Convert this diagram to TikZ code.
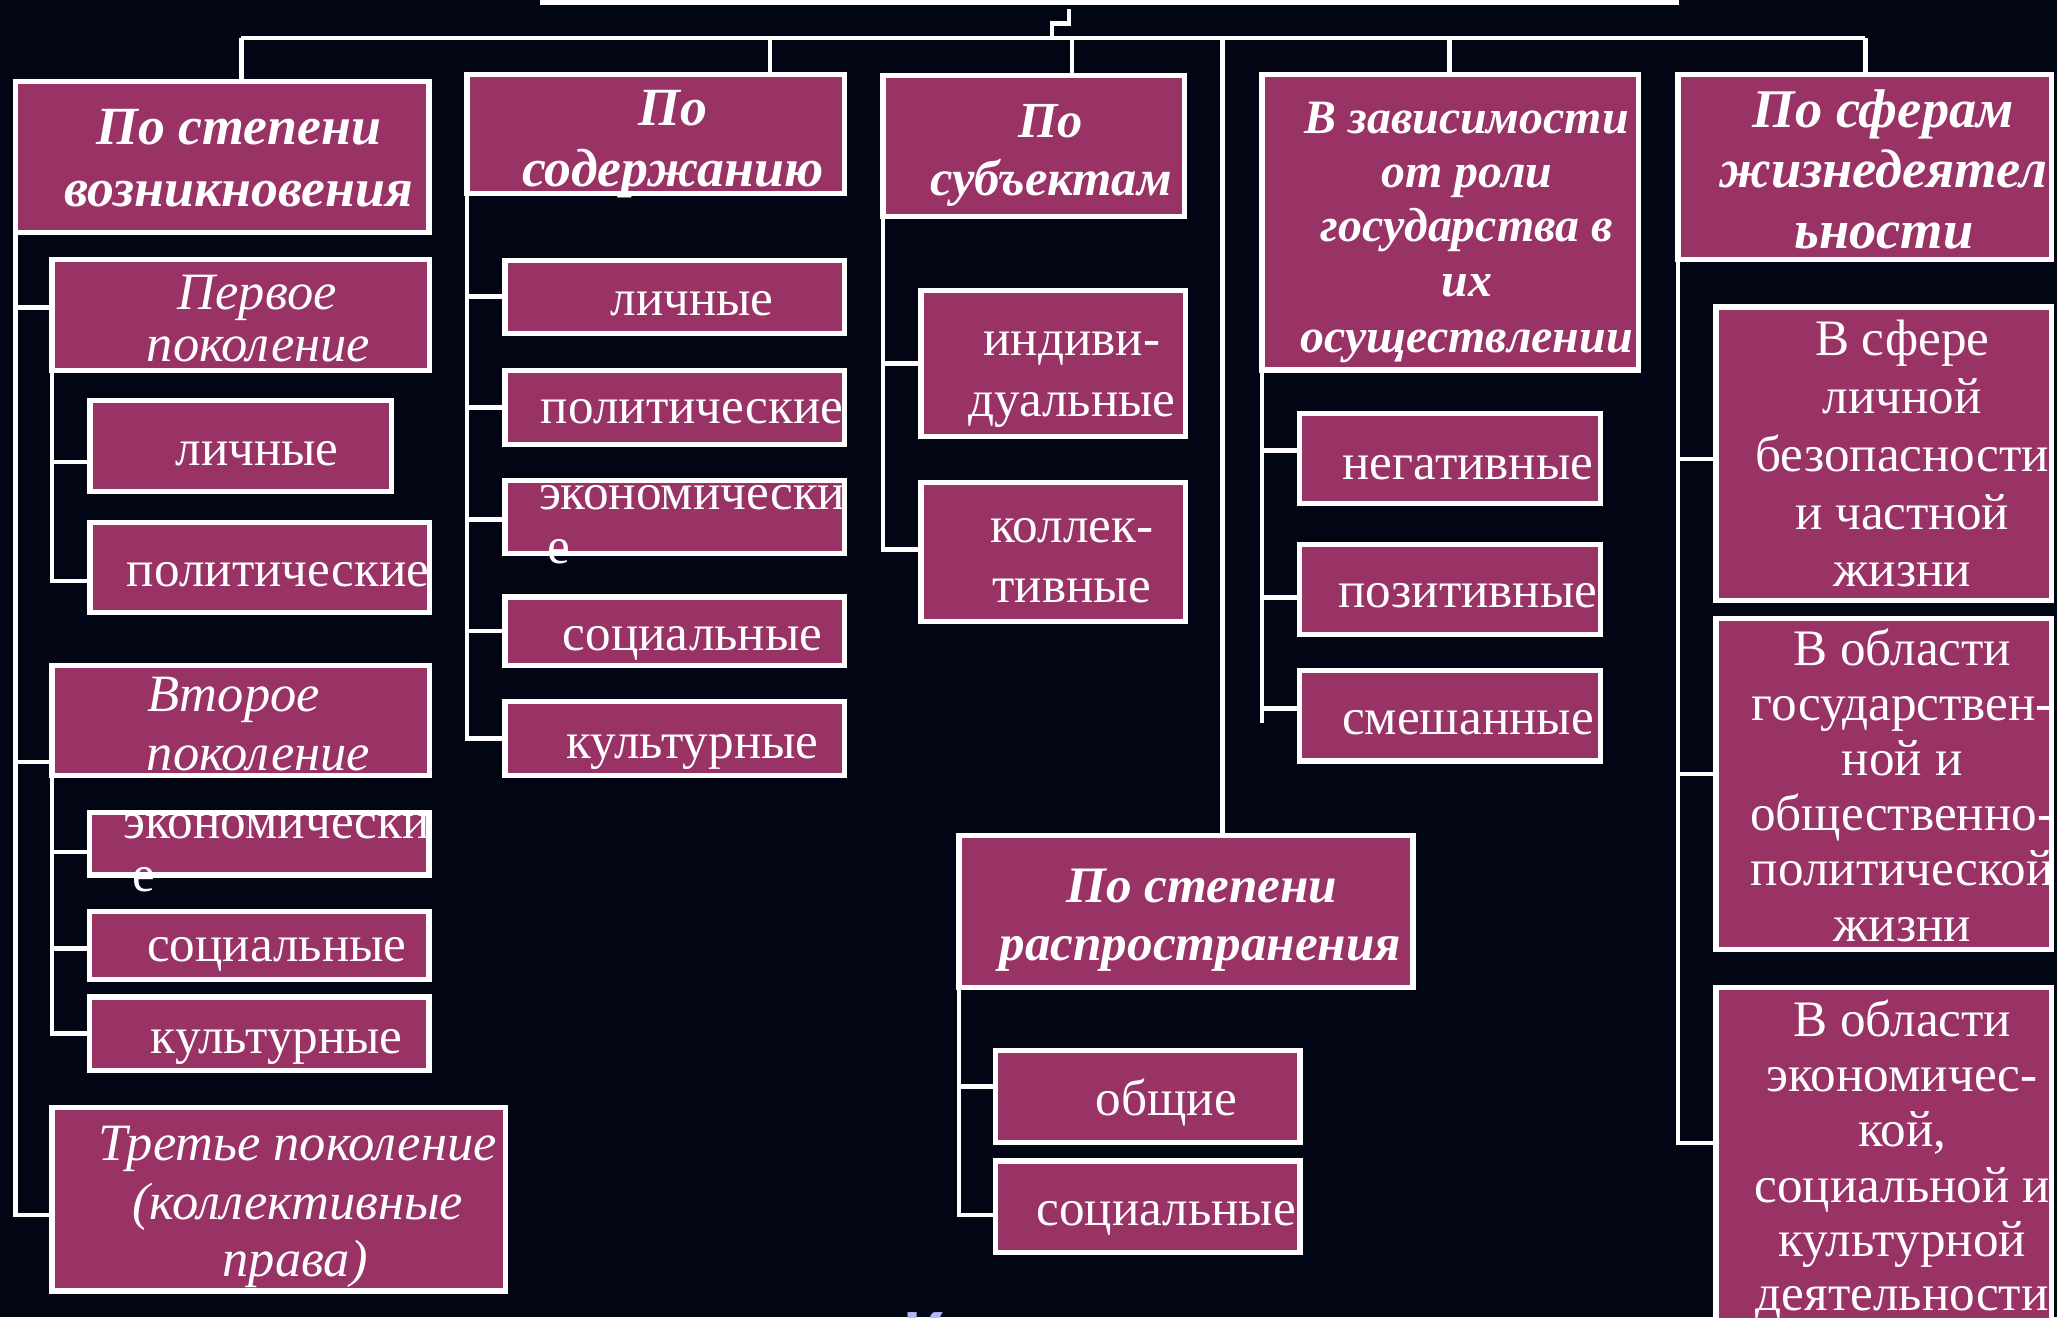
\documentclass[tikz,border=0pt]{standalone}
\usepackage{fontspec}
\setmainfont{Liberation Serif}
\newfontfamily\kfont{Carlito}
\usetikzlibrary{calc}
\definecolor{bgc}{RGB}{2,6,20}
\definecolor{boxc}{RGB}{153,51,102}
\definecolor{kc}{RGB}{175,185,245}
\newcommand\mkbox[5]{%
 \pgfmathsetmacro\mkW{#4-#2-4}\pgfmathsetmacro\mkH{#5-#3-4}%
 \pgfmathsetmacro\mkX{(#2+#4)/2}\pgfmathsetmacro\mkY{(#3+#5)/2}%
 \node[bx, minimum width=\mkW pt, minimum height=\mkH pt] (#1) at (\mkX,\mkY) {};}
\begin{document}
\begin{tikzpicture}[x=1pt,y=-1pt,
 bx/.style={draw=white, line width=4pt, fill=boxc, inner sep=0pt, outer sep=0pt},
 cn/.style={draw=white, line width=3.5pt},
 hd/.style={text=white, inner sep=0pt, anchor=mid, yshift=-8pt, font=\fontsize{#1}{44}\selectfont\bfseries\itshape},
 hd/.default=40,
 rg/.style={text=white, inner sep=0pt, anchor=mid, yshift=-8pt, font=\fontsize{39}{44}\selectfont},
 ge/.style={text=white, inner sep=0pt, anchor=mid, yshift=-8pt, font=\fontsize{40}{46}\selectfont\itshape}]
\useasboundingbox (0,0) rectangle (1568,1004);
\fill[bgc] (0,0) rectangle (1568,1004);

% top box (only its lower edge shows)
\node[fill=white, inner sep=0pt, minimum width=868pt, minimum height=24pt] (top) at (846,-8) {};

% headers
\mkbox{h1}{9.6}{60}{329}{179}
\mkbox{h2}{354}{55}{646}{149.4}
\mkbox{h3}{671}{55.5}{905}{167}
\mkbox{h4}{960}{55}{1251}{284}
\mkbox{h5}{1277}{55}{1566}{200}
\mkbox{h6}{729}{635}{1079}{755}
% column 1
\mkbox{p1}{37.6}{196}{329.6}{284.5}
\mkbox{l1}{66.6}{303.5}{300.7}{376.7}
\mkbox{q1}{66.6}{396.5}{329.6}{469}
\mkbox{v1}{37.6}{505}{329.6}{593}
\mkbox{e1}{66}{617.6}{329}{669}
\mkbox{s1}{66}{693}{329}{748.6}
\mkbox{k1}{66}{758}{329}{818}
\mkbox{t1}{37.6}{842}{387.5}{986}
% column 2
\mkbox{l2}{383}{196.4}{646}{256}
\mkbox{q2}{383}{280.6}{646}{340.6}
\mkbox{e2}{383}{364}{646}{424}
\mkbox{s2}{383}{453}{646}{509}
\mkbox{k2}{383}{533}{646}{593}
% column 3
\mkbox{i3}{700}{219.6}{905.6}{335}
\mkbox{c3}{700}{365.6}{905.6}{475.7}
% column 4
\mkbox{n4}{988.6}{313}{1222}{386}
\mkbox{p4}{988.6}{413}{1222}{485.6}
\mkbox{m4}{988.6}{509}{1222}{582}
% column 5
\mkbox{a5}{1306}{232}{1566}{460}
\mkbox{b5}{1306}{469.7}{1566}{725.6}
\mkbox{c5}{1306}{750.5}{1566}{1040}
% centre column
\mkbox{o6}{757}{799}{993}{873}
\mkbox{s6}{757}{883}{993}{957}

% bus and drops
\coordinate (tj1) at (815,7);
\coordinate (tj2) at (802,18);
\coordinate (bA) at (184,29);
\coordinate (bB) at (587,29);
\coordinate (bC) at (817,29);
\coordinate (bD) at (932,29);
\coordinate (bE) at (1105,29);
\coordinate (bF) at (1422,29);
\draw[cn] (tj1) |- (tj2) -- (tj2 |- bA);
\draw[cn] (bA) -- (bF);
\draw[cn] (bA) -- (bA |- h1.north);
\draw[cn] (bB) -- (bB |- h2.north);
\draw[cn] (bC) -- (bC |- h3.north);
\draw[cn] (bD) -- (bD |- h6.north);
\draw[cn] (bE) -- (bE |- h4.north);
\draw[cn] (bF) -- (bF |- h5.north);

% branch points
\coordinate (p1c) at ($(p1.west)+(0,-6)$);
\coordinate (l1c) at ($(l1.west)+(0,12)$);
\coordinate (q1c) at ($(q1.west)+(0,10)$);
\coordinate (v1c) at ($(v1.west)+(0,32)$);
\coordinate (e1c) at ($(e1.west)+(0,6)$);
\coordinate (s1c) at ($(s1.west)+(0,2)$);
\coordinate (k1c) at ($(k1.west)+(0,0)$);
\coordinate (t1c) at ($(t1.west)+(0,12)$);
\coordinate (l2c) at (l2.west);
\coordinate (q2c) at (q2.west);
\coordinate (e2c) at ($(e2.west)+(0,2)$);
\coordinate (s2c) at (s2.west);
\coordinate (k2c) at (k2.west);
\coordinate (i3c) at (i3.west);
\coordinate (c3c) at ($(c3.west)+(0,-2)$);
\coordinate (n4c) at ($(n4.west)+(0,-6)$);
\coordinate (p4c) at ($(p4.west)+(0,6)$);
\coordinate (m4c) at ($(m4.west)+(0,-5.5)$);
\coordinate (m4e) at ($(m4.west)+(0,5.5)$);
\coordinate (a5c) at ($(a5.west)+(0,4)$);
\coordinate (b5c) at ($(b5.west)+(0,-7.6)$);
\coordinate (c5c) at ($(c5.west)+(0,-24)$);
\coordinate (o6c) at ($(o6.west)+(0,-8)$);
\coordinate (s6c) at ($(s6.west)+(0,6)$);

\draw[cn] (h1.south west) |- (p1c);
\draw[cn] (h1.south west) |- (v1c);
\draw[cn] (h1.south west) |- (t1c);
\draw[cn] (p1.south west) |- (l1c);
\draw[cn] (p1.south west) |- (q1c);
\draw[cn] (v1.south west) |- (e1c);
\draw[cn] (v1.south west) |- (s1c);
\draw[cn] (v1.south west) |- (k1c);
\draw[cn] (h2.south west) |- (l2c);
\draw[cn] (h2.south west) |- (q2c);
\draw[cn] (h2.south west) |- (e2c);
\draw[cn] (h2.south west) |- (s2c);
\draw[cn] (h2.south west) |- (k2c);
\draw[cn] (h3.south west) |- (i3c);
\draw[cn] (h3.south west) |- (c3c);
\draw[cn] (h4.south west) |- (n4c);
\draw[cn] (h4.south west) |- (p4c);
\draw[cn] (h4.south west) |- (m4c);
\draw[cn] (h4.south west) -- (h4.south west |- m4e);
\draw[cn] (h5.south west) |- (a5c);
\draw[cn] (h5.south west) |- (b5c);
\draw[cn] (h5.south west) |- (c5c);
\draw[cn] (h6.south west) |- (o6c);
\draw[cn] (h6.south west) |- (s6c);

% header texts
\node[hd=41] (x1a) at (182,100) {По степени};
\node[hd=41] (x1b) at (182,146.8) {возникновения};
\node[hd=41] (x2a) at (513,85) {По};
\node[hd=41] (x2b) at (513,131.6) {содержанию};
\node[hd=38.5] (x3a) at (801,94.5) {По};
\node[hd=38.5] (x3b) at (801,138.5) {субъектам};
\node[hd=36.5] (x4a) at (1118,91.5) {В зависимости};
\node[hd=36.5] (x4b) at (1118,132.6) {от роли};
\node[hd=36.5] (x4c) at (1118,174) {государства в};
\node[hd=36.5] (x4d) at (1118,215.5) {их};
\node[hd=36.5] (x4e) at (1118,258.6) {осуществлении};
\node[hd=41.5] (x5a) at (1435.6,87) {По сферам};
\node[hd=41.5] (x5b) at (1435.6,132.6) {жизнедеятел};
\node[hd=41.5] (x5c) at (1436,179) {ьности};
\node[hd=39] (x6a) at (916,678) {По степени};
\node[hd=39] (x6b) at (915,722) {распространения};

% generation texts
\node[ge] (g1a) at (196,226) {Первое};
\node[ge] (g1b) at (197,265) {поколение};
\node[ge] (g2a) at (178,532) {Второе};
\node[ge] (g2b) at (197,577) {поколение};
\node[ge] (g3a) at (227,874) {Третье поколение};
\node[ge] (g3b) at (227,919.5) {(коллективные};
\node[ge] (g3c) at (225,962.7) {права)};

% item texts
\node[rg] (r1) at (196,344.6) {личные};
\node[rg] (r2) at (212,437) {политические};
\node[rg] (r3) at (211,628.5) {экономически};
\node[rg] (r3e) at (110,669) {е};
\node[rg] (r4) at (211,722.6) {социальные};
\node[rg] (r5) at (211,793) {культурные};
\node[rg] (r6) at (527.6,230) {личные};
\node[rg] (r7) at (527.6,312.6) {политические};
\node[rg] (r8) at (527.6,378) {экономически};
\node[rg] (r8e) at (426,419) {е};
\node[rg] (r9) at (528,485.5) {социальные};
\node[rg] (r10) at (528,568) {культурные};
\node[rg] (r11) at (817,260.6) {индиви-};
\node[rg] (r12) at (817,307) {дуальные};
\node[rg] (r13) at (817,403) {коллек-};
\node[rg] (r14) at (817,449) {тивные};
\node[rg] (r15) at (1119,355) {негативные};
\node[rg] (r16) at (1119,453) {позитивные};
\node[rg] (r17) at (1119,549.6) {смешанные};
\node[rg] (a1) at (1450,261) {В сфере};
\node[rg] (a2) at (1450,305) {личной};
\node[rg] (a3) at (1450,349) {безопасности};
\node[rg] (a4) at (1450,393) {и частной};
\node[rg] (a5t) at (1450,437) {жизни};
\node[rg] (b1) at (1450,497) {В области};
\node[rg] (b2) at (1450,539) {государствен-};
\node[rg] (b3) at (1450,581) {ной и};
\node[rg] (b4) at (1450,623) {общественно-};
\node[rg] (b5t) at (1450,665) {политической};
\node[rg] (b6) at (1450,707) {жизни};
\node[rg] (c1) at (1450,780) {В области};
\node[rg] (c2) at (1450,822) {экономичес-};
\node[rg] (c3t) at (1450,864) {кой,};
\node[rg] (c4) at (1450,906) {социальной и};
\node[rg] (c5t) at (1450,947.5) {культурной};
\node[rg] (c6) at (1450,988.5) {деятельности};
\node[rg] (o1) at (889,840) {общие};
\node[rg] (o2) at (889,924) {социальные};

% stray letter at the bottom edge
\node[font=\kfont\bfseries\fontsize{54}{60}\selectfont, text=kc, anchor=north west, inner sep=0pt] (kk) at (689,1000.5) {К};
\end{tikzpicture}
\end{document}
